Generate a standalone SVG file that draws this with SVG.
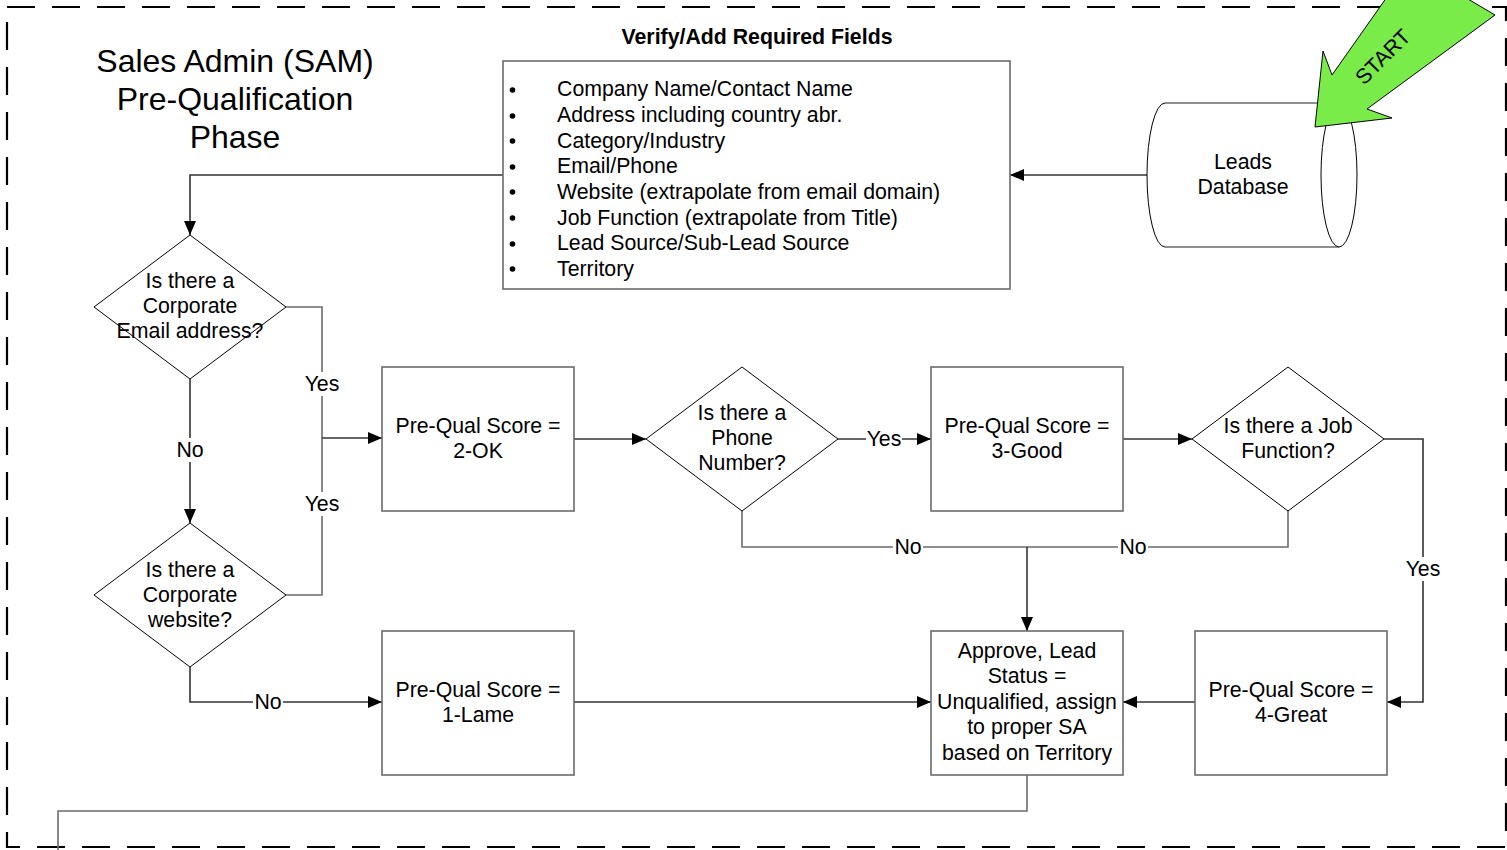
<svg xmlns="http://www.w3.org/2000/svg" width="1507" height="850" viewBox="0 0 1507 850">
<defs>
<marker id="arr" markerUnits="userSpaceOnUse" markerWidth="14" markerHeight="12" refX="14" refY="6" orient="auto">
<path d="M0,0 L14,6 L0,12 z" fill="#000"/>
</marker>
</defs>
<style>
text{font-family:"Liberation Sans",Arial,sans-serif;font-size:21.3px;fill:#000}
.c{text-anchor:middle}
.box{fill:#fff;stroke:#6b6b6b;stroke-width:1.6}
.dia{fill:#fff;stroke:#000;stroke-width:1}
.ln{fill:none;stroke:#6b6b6b;stroke-width:1.6}
.ar{fill:none;stroke:#333;stroke-width:1.6;marker-end:url(#arr)}
.lbg{fill:#fff}
</style>
<rect x="0" y="0" width="1507" height="850" fill="#fff"/>
<rect id="border" x="7" y="7" width="1499" height="840" fill="none" stroke="#000" stroke-width="2.2" stroke-dasharray="28 17"/>

<g id="title">
<text class="c" x="235" y="72" style="font-size:32px">Sales Admin (SAM)</text>
<text class="c" x="235" y="110" style="font-size:32px">Pre-Qualification</text>
<text class="c" x="235" y="148" style="font-size:32px">Phase</text>
</g>

<g id="connectors">
<path class="ar" d="M1147,175 L1010,175"/>
<path class="ar" d="M503,175 L190,175 L190,235"/>
<path class="ar" d="M190,379 L190,523"/>
<path class="ln" d="M286,307 L322,307 L322,595 L286,595"/>
<path class="ar" d="M322,438 L382,438"/>
<path class="ar" d="M190,667 L190,702 L382,702"/>
<path class="ar" d="M574,702 L931,702"/>
<path class="ar" d="M574,439 L646,439"/>
<path class="ar" d="M838,439 L931,439"/>
<path class="ar" d="M1123,439 L1192,439"/>
<path class="ln" d="M742,511 L742,547 L1288,547 L1288,511"/>
<path class="ar" d="M1027,547 L1027,631"/>
<path class="ar" d="M1384,439 L1423,439 L1423,702 L1387,702"/>
<path class="ar" d="M1195,702 L1123,702"/>
<path class="ln" d="M1027,775 L1027,811 L58,811 L58,850"/>
<g id="labels">
<rect class="lbg" x="303" y="372" width="38" height="24"/><text class="c" x="322" y="391">Yes</text>
<rect class="lbg" x="303" y="492" width="38" height="24"/><text class="c" x="322" y="511">Yes</text>
<rect class="lbg" x="175" y="438" width="30" height="24"/><text class="c" x="190" y="457">No</text>
<rect class="lbg" x="253" y="690" width="30" height="24"/><text class="c" x="268" y="709">No</text>
<rect class="lbg" x="866" y="427" width="36" height="24"/><text class="c" x="884" y="446">Yes</text>
<rect class="lbg" x="893" y="535" width="30" height="24"/><text class="c" x="908" y="554">No</text>
<rect class="lbg" x="1118" y="535" width="30" height="24"/><text class="c" x="1133" y="554">No</text>
<rect class="lbg" x="1404" y="557" width="38" height="24"/><text class="c" x="1423" y="576">Yes</text>
</g>
</g>

<g id="verify-fields">
<text class="c" x="757" y="44" style="font-weight:bold">Verify/Add Required Fields</text>
<rect class="box" x="503" y="61" width="507" height="228"/>
<g fill="#000">
<circle cx="512.5" cy="90" r="2.8"/><circle cx="512.5" cy="116" r="2.8"/><circle cx="512.5" cy="141" r="2.8"/><circle cx="512.5" cy="167" r="2.8"/>
<circle cx="512.5" cy="192" r="2.8"/><circle cx="512.5" cy="218" r="2.8"/><circle cx="512.5" cy="244" r="2.8"/><circle cx="512.5" cy="269" r="2.8"/>
</g>
<text x="557" y="96">Company Name/Contact Name</text>
<text x="557" y="122">Address including country abr.</text>
<text x="557" y="148">Category/Industry</text>
<text x="557" y="173">Email/Phone</text>
<text x="557" y="199">Website (extrapolate from email domain)</text>
<text x="557" y="225">Job Function (extrapolate from Title)</text>
<text x="557" y="250">Lead Source/Sub-Lead Source</text>
<text x="557" y="276">Territory</text>
</g>

<g id="leads-db">
<path d="M1165,103 A18,72 0 0 0 1165,247 L1339,247 L1339,103 Z" fill="#fff" stroke="none"/>
<path d="M1165,103 A18,72 0 0 0 1165,247" fill="none" stroke="#000" stroke-width="1"/>
<path class="ln" d="M1165,103 L1339,103 M1165,247 L1339,247"/>
<ellipse cx="1339" cy="175" rx="18" ry="72" fill="#fff" stroke="#000" stroke-width="1"/>
<text class="c" x="1243" y="169">Leads</text>
<text class="c" x="1243" y="194">Database</text>
</g>

<g id="start">
<polygon points="1315,127 1323,51 1332,75 1406,-30 1419,-30 1495,15 1367,109 1392,118" fill="#7aec4a" stroke="#000" stroke-width="1"/>
<text class="c" transform="translate(1383,57) rotate(-45)" x="0" y="7">START</text>
</g>

<g id="q-email">
<polygon class="dia" points="190,235 286,307 190,379 94,307"/>
<text class="c" x="190" y="288">Is there a</text>
<text class="c" x="190" y="313">Corporate</text>
<text class="c" x="190" y="338">Email address?</text>
</g>

<g id="q-website">
<polygon class="dia" points="190,523 286,595 190,667 94,595"/>
<text class="c" x="190" y="577">Is there a</text>
<text class="c" x="190" y="602">Corporate</text>
<text class="c" x="190" y="627">website?</text>
</g>

<g id="score-2ok">
<rect class="box" x="382" y="367" width="192" height="144"/>
<text class="c" x="478" y="433">Pre-Qual Score =</text>
<text class="c" x="478" y="458">2-OK</text>
</g>

<g id="score-1lame">
<rect class="box" x="382" y="631" width="192" height="144"/>
<text class="c" x="478" y="697">Pre-Qual Score =</text>
<text class="c" x="478" y="722">1-Lame</text>
</g>

<g id="q-phone">
<polygon class="dia" points="742,367 838,439 742,511 646,439"/>
<text class="c" x="742" y="420">Is there a</text>
<text class="c" x="742" y="445">Phone</text>
<text class="c" x="742" y="470">Number?</text>
</g>

<g id="score-3good">
<rect class="box" x="931" y="367" width="192" height="144"/>
<text class="c" x="1027" y="433">Pre-Qual Score =</text>
<text class="c" x="1027" y="458">3-Good</text>
</g>

<g id="q-job">
<polygon class="dia" points="1288,367 1384,439 1288,511 1192,439"/>
<text class="c" x="1288" y="433">Is there a Job</text>
<text class="c" x="1288" y="458">Function?</text>
</g>

<g id="approve">
<rect class="box" x="931" y="631" width="192" height="144"/>
<text class="c" x="1027" y="658">Approve, Lead</text>
<text class="c" x="1027" y="683">Status =</text>
<text class="c" x="1027" y="709">Unqualified, assign</text>
<text class="c" x="1027" y="734">to proper SA</text>
<text class="c" x="1027" y="760">based on Territory</text>
</g>

<g id="score-4great">
<rect class="box" x="1195" y="631" width="192" height="144"/>
<text class="c" x="1291" y="697">Pre-Qual Score =</text>
<text class="c" x="1291" y="722">4-Great</text>
</g>
</svg>
